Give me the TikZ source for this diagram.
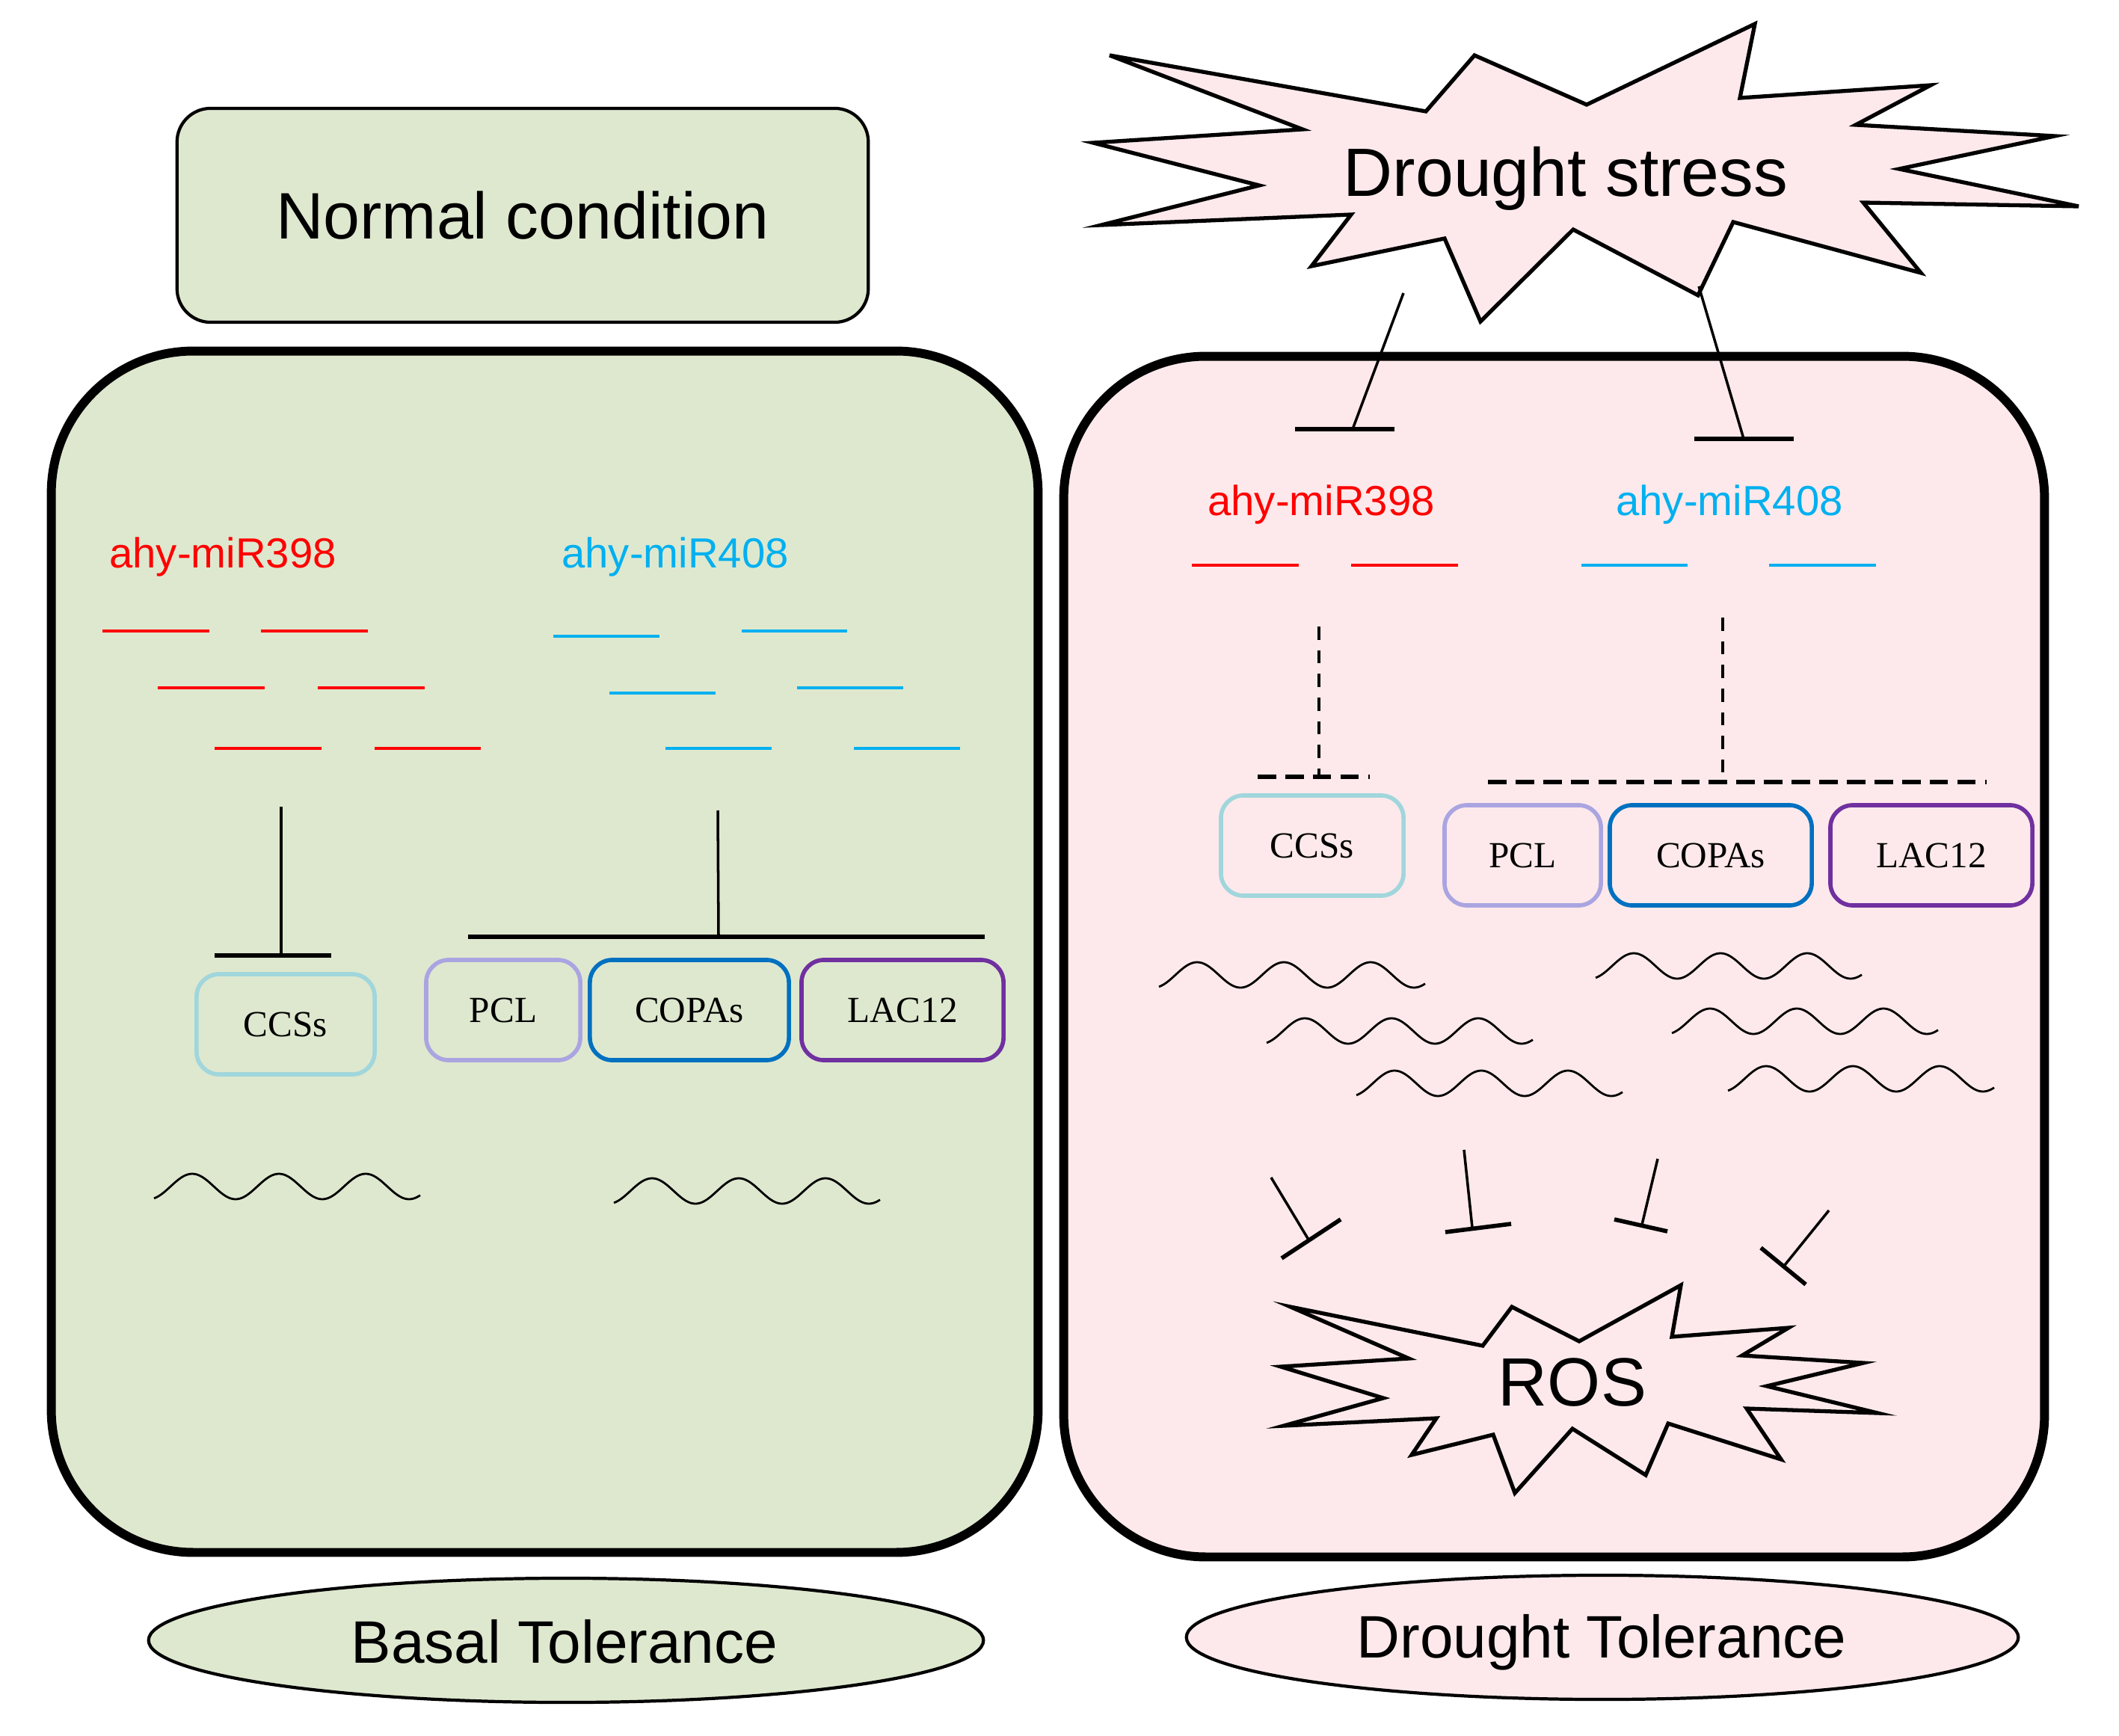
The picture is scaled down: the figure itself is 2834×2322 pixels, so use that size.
\documentclass[tikz,border=0pt]{standalone}
\usepackage{fontspec}
\setmainfont{Liberation Sans}
\newfontfamily\genefont{Liberation Serif}
\usetikzlibrary{arrows.meta,shapes.geometric}

\definecolor{leafgreen}{RGB}{222,232,207}
\definecolor{palepink}{RGB}{253,233,235}
\definecolor{mirred}{RGB}{255,0,0}
\definecolor{mirblue}{RGB}{0,176,240}
\definecolor{ccsteal}{RGB}{160,214,220}
\definecolor{pcllav}{RGB}{170,165,225}
\definecolor{copablue}{RGB}{0,112,192}
\definecolor{lacpurple}{RGB}{112,48,160}

\newcommand{\fsBig}{\fontsize{26}{30}\selectfont}
\newcommand{\fsNorm}{\fontsize{25}{29}\selectfont}
\newcommand{\fsTol}{\fontsize{22.8}{27}\selectfont}
\newcommand{\fsMir}{\fontsize{16}{19}\selectfont}
\newcommand{\fsGene}{\fontsize{14}{16}\selectfont}
\newcommand{\mywave}[2]{\draw[wavestroke] plot[domain=0:3.07,samples=120,smooth] ({#1+116*\x},{#2+17*cos(360*(\x+0.06))});}

\begin{document}
\begin{tikzpicture}[x=0.01cm,y=-0.01cm,
  panel/.style={draw, line width=3.4pt, rounded corners=1.9cm, inner sep=0pt},
  genebox/.style={draw, line width=1.6pt, rounded corners=0.3cm, inner sep=0pt,
    minimum height=1.34cm, font=\genefont\fsGene},
  mirline/.style={line width=1.4pt},
  wavestroke/.style={line width=0.8pt},
  inhstem/.style={line width=1pt},
  inhbar/.style={line width=1.6pt},
  dashv/.style={line width=1pt, dash pattern=on 5pt off 4pt},
  dashh/.style={line width=1.5pt, dash pattern=on 7pt off 3.5pt},
  startxt/.style={font=\fsBig, anchor=base, inner sep=0pt},
  tollabel/.style={font=\fsTol, anchor=base, inner sep=0pt},
  mirlabel/.style={font=\fsMir, anchor=base, inner sep=0pt},
  starline/.style={line width=1.5pt, line join=miter}
]
\fill[white] (0,0) rectangle (2834,2322);
\useasboundingbox (0,0) rectangle (2834,2322);

% ---------- panels ----------
\node[panel, fill=leafgreen, minimum width=13.19cm, minimum height=16.06cm] (leftpanel) at (728.5,1273) {};
\node[panel, fill=palepink, minimum width=13.11cm, minimum height=16.05cm] (rightpanel) at (2078.5,1279.5) {};

% ---------- Normal condition ----------
\node[draw, line width=1.2pt, fill=leafgreen, rounded corners=0.45cm,
  minimum width=9.24cm, minimum height=2.86cm, font=\fsNorm] (normal) at (699,288) {Normal condition};

% ---------- Drought stress star ----------
\draw[starline, fill=palepink] (1484,74) -- (1907,149) -- (1972,74) -- (2122,140) -- (2347,32) -- (2327,131)
  -- (2582,114) -- (2482,167) -- (2748,182) -- (2540,226) -- (2780,276) -- (2492,271) -- (2569,365)
  -- (2318,297) -- (2271,395) -- (2104,307) -- (1980,430) -- (1932,319) -- (1754,356) -- (1807,287)
  -- (1473,301) -- (1684,248) -- (1462,191) -- (1742,173) -- cycle;
\node[startxt] (drought) at (2094,263) {Drought stress};

% ---------- ROS star ----------
\draw[starline] (1726,1748) -- (1983,1800) -- (2022,1748) -- (2112,1794) -- (2248,1719) -- (2236,1788)
  -- (2392,1776) -- (2330,1813) -- (2492,1823) -- (2363,1854) -- (2511,1890) -- (2336,1884) -- (2382,1952)
  -- (2231,1904) -- (2201,1973) -- (2103,1911) -- (2026,1997) -- (1997,1919) -- (1888,1946) -- (1921,1897)
  -- (1717,1907) -- (1850,1870) -- (1713,1828) -- (1884,1817) -- cycle;
\node[startxt] (ros) at (2103,1880) {ROS};

% ---------- tolerance ellipses ----------
\node[draw, ellipse, line width=1.2pt, fill=leafgreen, minimum width=11.16cm, minimum height=1.66cm, inner sep=0pt] (basal) at (757,2194) {};
\node[tollabel] (basaltxt) at (755,2224) {Basal Tolerance};
\node[draw, ellipse, line width=1.2pt, fill=palepink, minimum width=11.12cm, minimum height=1.66cm, inner sep=0pt] (dtol) at (2143,2190) {};
\node[tollabel] (dtoltxt) at (2142,2217) {Drought Tolerance};

% ---------- miRNA labels ----------
\node[mirlabel, text=mirred] (l398) at (298,760) {ahy-miR398};
\node[mirlabel, text=mirblue] (l408) at (903,760) {ahy-miR408};
\node[mirlabel, text=mirred] (r398) at (1767,690) {ahy-miR398};
\node[mirlabel, text=mirblue] (r408) at (2313,690) {ahy-miR408};

% ---------- miRNA strands, left ----------
\draw[mirline, mirred] (137,844) -- (280,844);  \draw[mirline, mirred] (349,844) -- (492,844);
\draw[mirline, mirred] (211,920) -- (354,920);  \draw[mirline, mirred] (425,920) -- (568,920);
\draw[mirline, mirred] (287,1001) -- (430,1001); \draw[mirline, mirred] (501,1001) -- (643,1001);
\draw[mirline, mirblue] (740,851) -- (882,851);  \draw[mirline, mirblue] (992,844) -- (1133,844);
\draw[mirline, mirblue] (815,927) -- (957,927);  \draw[mirline, mirblue] (1066,920) -- (1208,920);
\draw[mirline, mirblue] (890,1001) -- (1032,1001); \draw[mirline, mirblue] (1142,1001) -- (1284,1001);

% ---------- miRNA strands, right ----------
\draw[mirline, mirred] (1594,756) -- (1737,756);  \draw[mirline, mirred] (1807,756) -- (1950,756);
\draw[mirline, mirblue] (2115,756) -- (2257,756); \draw[mirline, mirblue] (2366,756) -- (2509,756);

% ---------- gene boxes, left ----------
\node[genebox, draw=ccsteal, minimum width=2.38cm] (lccs) at (382,1370) {CCSs};
\node[genebox, draw=pcllav, minimum width=2.06cm] (lpcl) at (673,1351) {PCL};
\node[genebox, draw=copablue, minimum width=2.66cm] (lcopa) at (922,1351) {COPAs};
\node[genebox, draw=lacpurple, minimum width=2.70cm] (llac) at (1207,1351) {LAC12};

% ---------- gene boxes, right ----------
\node[genebox, draw=ccsteal, minimum width=2.44cm] (rccs) at (1755,1131) {CCSs};
\node[genebox, draw=pcllav, minimum width=2.09cm] (rpcl) at (2036.5,1144) {PCL};
\node[genebox, draw=copablue, minimum width=2.70cm] (rcopa) at (2288,1144) {COPAs};
\node[genebox, draw=lacpurple, minimum width=2.70cm] (rlac) at (2583,1144) {LAC12};

% ---------- left inhibitions ----------
\coordinate (a1) at (376,1079); \coordinate (a2) at (376,1278);
\coordinate (a3) at (287,1278); \coordinate (a4) at (443,1278);
\draw[inhstem] (a1) -- (a2); \draw[inhbar] (a3) -- (a4);
\coordinate (b1) at (960,1084); \coordinate (b2) at (961,1253);
\coordinate (b3) at (626,1253); \coordinate (b4) at (1317,1253);
\draw[inhstem] (b1) -- (b2); \draw[inhbar] (b3) -- (b4);

% ---------- right dashed links ----------
\coordinate (c1) at (1764,838); \coordinate (c2) at (1764,1039);
\coordinate (c3) at (1682,1039); \coordinate (c4) at (1832,1039);
\draw[dashv] (c1) -- (c2); \draw[dashh] (c3) -- (c4);
\coordinate (d1) at (2304,826); \coordinate (d2) at (2304,1046);
\coordinate (d3) at (1990,1046); \coordinate (d4) at (2657,1046);
\draw[dashv] (d1) -- (d2); \draw[dashh] (d3) -- (d4);

% ---------- drought stress inhibitions ----------
\coordinate (s1a) at (1877,392); \coordinate (s1b) at (1809,574);
\coordinate (s1c) at (1732,574); \coordinate (s1d) at (1865,574);
\draw[inhstem] (s1a) -- (s1b); \draw[inhbar] (s1c) -- (s1d);
\coordinate (s2a) at (2272,383); \coordinate (s2b) at (2332,587);
\coordinate (s2c) at (2266,587); \coordinate (s2d) at (2399,587);
\draw[inhstem] (s2a) -- (s2b); \draw[inhbar] (s2c) -- (s2d);

% ---------- ROS inhibitions ----------
\coordinate (r1a) at (1700,1575); \coordinate (r1b) at (1750,1658);
\coordinate (r1c) at (1714,1683); \coordinate (r1d) at (1793,1631);
\draw[inhstem] (r1a) -- (r1b); \draw[inhbar] (r1c) -- (r1d);
\coordinate (r2a) at (1958,1538); \coordinate (r2b) at (1969,1642);
\coordinate (r2c) at (1933,1648); \coordinate (r2d) at (2021,1637);
\draw[inhstem] (r2a) -- (r2b); \draw[inhbar] (r2c) -- (r2d);
\coordinate (r3a) at (2217,1550); \coordinate (r3b) at (2196,1638);
\coordinate (r3c) at (2159,1631); \coordinate (r3d) at (2230,1647);
\draw[inhstem] (r3a) -- (r3b); \draw[inhbar] (r3c) -- (r3d);
\coordinate (r4a) at (2446,1619); \coordinate (r4b) at (2387,1692);
\coordinate (r4c) at (2355,1669); \coordinate (r4d) at (2415,1718);
\draw[inhstem] (r4a) -- (r4b); \draw[inhbar] (r4c) -- (r4d);

% ---------- mRNA waves ----------
\mywave{206}{1587}
\mywave{821}{1593}
\mywave{1550}{1304}
\mywave{1694}{1379}
\mywave{1814}{1449}
\mywave{2134}{1292}
\mywave{2236}{1366}
\mywave{2311}{1443}
\end{tikzpicture}
\end{document}
